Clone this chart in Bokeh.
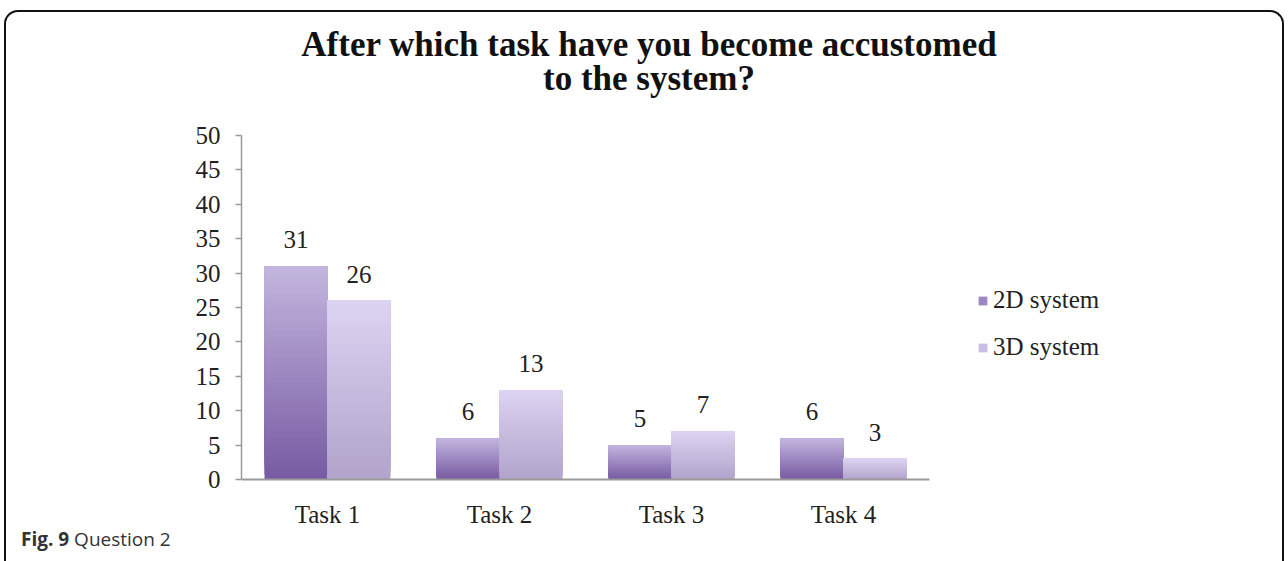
from bokeh.plotting import figure
from bokeh.layouts import column, row
from bokeh.models import (ColumnDataSource, FactorRange, Range1d, Legend,
                          LegendItem, FixedTicker, Div)
from bokeh.transform import dodge
from bokeh.core.properties import value
from bokeh.embed import file_html
from bokeh.resources import INLINE

# ---- data ----
tasks = ["Task 1", "Task 2", "Task 3", "Task 4"]
values_2d = [31, 6, 5, 6]
values_3d = [26, 13, 7, 3]
series_names = ["2D system", "3D system"]
y_ticks = [0, 5, 10, 15, 20, 25, 30, 35, 40, 45, 50]
title_lines = ["After which task have you become accustomed", "to the system?"]
caption_bold = "Fig. 9"
caption_text = "Question 2"

SERIF = "Liberation Serif"
FS = "25px"
N = 40
BAR_W = 0.366
OFF = 0.183
C2_BOTTOM, C2_TOP, C2_KEY = "#775aa2", "#c3b6de", "#9d87c4"
C3_BOTTOM, C3_TOP, C3_KEY = "#b1a3cb", "#ddd3f1", "#c8bde2"


def hex_to_rgb(h):
    h = h.lstrip("#")
    return tuple(int(h[i:i + 2], 16) for i in (0, 2, 4))


def lerp(c0, c1, t):
    a, b = hex_to_rgb(c0), hex_to_rgb(c1)
    return "#%02x%02x%02x" % tuple(round(a[k] + (b[k] - a[k]) * t) for k in range(3))


def gradient_source(values, c_bottom, c_top):
    # each slice spans from its own start up to the bar top; later slices
    # paint over earlier ones, giving a seamless vertical gradient
    xs, bottoms, tops, colors = [], [], [], []
    for task, v in zip(tasks, values):
        for i in range(N):
            xs.append(task)
            bottoms.append(v * i / N)
            tops.append(v)
            colors.append(lerp(c_bottom, c_top, (i + 0.5) / N))
    return ColumnDataSource(dict(x=xs, bottom=bottoms, top=tops, color=colors))


# ---- title ----
line_html = ('<div style="height:34px;line-height:34px;overflow:visible;'
             'white-space:nowrap">%s</div>')
title_div = Div(text="".join(line_html % t for t in title_lines), width=1276, height=77,
                styles={"font-family": "'Liberation Serif', serif",
                        "font-weight": "bold", "font-size": "35px",
                        "color": "#111111", "text-align": "center",
                        "padding-top": "11px"})

# ---- main chart ----
p = figure(width=943, height=431, output_backend="svg", toolbar_location=None,
           x_range=FactorRange(*tasks, range_padding=0), y_range=Range1d(0, 50),
           min_border_left=235, min_border_right=20, min_border_top=36,
           min_border_bottom=47)
p.outline_line_color = None
p.xgrid.grid_line_color = None
p.ygrid.grid_line_color = None
p.background_fill_color = "white"
p.border_fill_color = "white"

src2 = gradient_source(values_2d, C2_BOTTOM, C2_TOP)
src3 = gradient_source(values_3d, C3_BOTTOM, C3_TOP)

p.vbar(x=dodge("x", -OFF, range=p.x_range), width=BAR_W, top="top",
       bottom="bottom", source=src2, fill_color="color", line_color=None)
p.vbar(x=dodge("x", OFF, range=p.x_range), width=BAR_W, top="top",
       bottom="bottom", source=src3, fill_color="color", line_color=None)

lab_src = ColumnDataSource(dict(x=tasks, v2=values_2d, v3=values_3d,
                                t2=[str(v) for v in values_2d],
                                t3=[str(v) for v in values_3d]))
for col, tcol, off in (("v2", "t2", -OFF), ("v3", "t3", OFF)):
    p.text(x=dodge("x", off, range=p.x_range), y=col, text=tcol, source=lab_src,
           text_align="center", text_baseline="bottom", y_offset=-18,
           text_font=value(SERIF), text_font_size=FS, text_color="#222222")

p.yaxis.ticker = FixedTicker(ticks=y_ticks)
p.yaxis.major_tick_out = 6
p.yaxis.major_tick_in = 0
p.yaxis.minor_tick_line_color = None
p.yaxis.axis_line_color = "#9a9a9a"
p.yaxis.axis_line_width = 1.5
p.yaxis.major_tick_line_color = "#9a9a9a"
p.yaxis.major_tick_line_width = 1.5
p.yaxis.major_label_standoff = 15
p.yaxis.major_label_text_font = SERIF
p.yaxis.major_label_text_font_size = FS
p.yaxis.major_label_text_color = "#222222"

p.xaxis.major_tick_line_color = None
p.xaxis.minor_tick_line_color = None
p.xaxis.axis_line_color = "#9a9a9a"
p.xaxis.axis_line_width = 2
p.xaxis.major_label_standoff = 15
p.xaxis.major_label_text_font = SERIF
p.xaxis.major_label_text_font_size = FS
p.xaxis.major_label_text_color = "#222222"

# ---- legend panel ----
lf = figure(width=333, height=431, output_backend="svg", toolbar_location=None,
            x_axis_location=None, y_axis_location=None,
            x_range=Range1d(0, 1), y_range=Range1d(0, 1),
            min_border_left=0, min_border_right=0, min_border_top=0,
            min_border_bottom=0)
lf.outline_line_color = None
lf.xgrid.grid_line_color = None
lf.ygrid.grid_line_color = None
lf.border_fill_color = "white"
nan = float("nan")
k2 = lf.vbar(x=[nan], top=[nan], width=1, fill_color=C2_KEY, line_color=None)
k3 = lf.vbar(x=[nan], top=[nan], width=1, fill_color=C3_KEY, line_color=None)
legend = Legend(items=[LegendItem(label=series_names[0], renderers=[k2], index=0),
                       LegendItem(label=series_names[1], renderers=[k3], index=0)],
                location=(28, 118), orientation="vertical",
                glyph_width=11, glyph_height=11, label_standoff=5,
                label_height=24, spacing=19, padding=0, margin=0,
                border_line_alpha=0, background_fill_alpha=0,
                label_text_font=SERIF, label_text_font_size=FS,
                label_text_color="#222222")
lf.add_layout(legend, "center")

# ---- caption ----
caption = Div(text="<b>%s</b> %s" % (caption_bold, caption_text), width=1276, height=28,
              styles={"font-family": "'Open Sans', sans-serif", "font-size": "19px",
                      "color": "#333333", "padding-left": "10px",
                      "line-height": "8px"})

layout = column(title_div, row(p, lf, spacing=0), caption, spacing=0,
                styles={"border": "2px solid #111", "border-bottom": "none",
                        "border-radius": "14px 14px 0 0", "margin-left": "4px",
                        "margin-top": "10px", "background": "white",
                        "width": "1280px"})

open("out.html", "w").write(file_html(layout, INLINE))
